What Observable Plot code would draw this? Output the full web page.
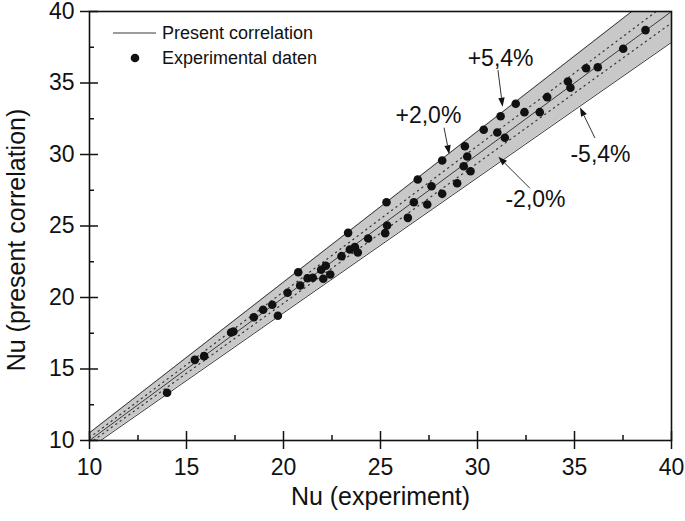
<!DOCTYPE html>
<html>
<head>
<meta charset="utf-8">
<script src="https://cdn.jsdelivr.net/npm/d3@7"></script>
<script src="https://cdn.jsdelivr.net/npm/@observablehq/plot@0.6"></script>
<style>
  body { margin: 0; background: #fff; }
  #chart svg { font-family: "Liberation Sans", Arial, sans-serif; }
</style>
</head>
<body>
<div id="chart"></div>
<script>
// Experimental Nu vs present correlation Nu
const expX = [14.0, 15.43, 15.91, 17.30, 17.42, 18.47, 18.95, 19.42, 19.71, 20.21,
  20.76, 20.86, 21.24, 21.51, 21.94, 22.18, 22.05, 22.41, 22.99, 23.33,
  23.42, 23.68, 23.83, 24.36, 25.34, 25.24,
  38.66, 37.51, 35.60, 36.20, 34.66, 34.79, 33.59, 31.97, 31.19, 32.42,
  33.21, 30.32, 31.02, 31.41, 29.35, 29.47, 28.18, 29.29, 29.64, 28.95,
  26.92, 27.63, 28.18, 25.31, 26.72, 27.41, 26.41];
const corrY = [13.34, 15.64, 15.90, 17.55, 17.62, 18.62, 19.14, 19.49, 18.72, 20.33,
  21.77, 20.84, 21.35, 21.38, 21.94, 22.22, 21.31, 21.61, 22.89, 24.52,
  23.36, 23.52, 23.15, 24.13, 25.03, 24.50,
  38.70, 37.39, 36.03, 36.10, 35.10, 34.67, 34.01, 33.55, 32.68, 32.96,
  32.96, 31.73, 31.54, 31.17, 30.58, 29.86, 29.58, 29.18, 28.83, 27.99,
  28.25, 27.78, 27.25, 26.66, 26.66, 26.50, 25.57];

// Deviation band definitions (percent)
const bandPct = 5.4;
const dottedPct = [2.0, -2.0];
const lineX = [10, 40];

// Axis ticks
const majorTicks = [10, 15, 20, 25, 30, 35, 40];
const minorTicks = [12.5, 17.5, 22.5, 27.5, 32.5, 37.5];

// Annotations
const annLabels = ["+5,4%", "+2,0%", "-5,4%", "-2,0%"];
const annLabelX = [31.19, 27.47, 36.34, 32.99];
const annLabelY = [36.71, 32.73, 30.00, 26.85];
const annTailX = [31.08, 28.30, 36.08, 32.73];
const annTailY = [35.87, 31.84, 31.12, 27.60];
const annTipX = [31.32, 28.57, 35.31, 31.10];
const annTipY = [33.31, 29.99, 33.26, 29.81];

const legendLabels = ["Present correlation", "Experimental daten"];

const points = expX.map((x, i) => ({x, y: corrY[i]}));
const band = lineX.map(x => ({x, lo: x * (1 - bandPct / 100), hi: x * (1 + bandPct / 100)}));
const dotted = dottedPct.flatMap(p => lineX.map(x => ({p, x, y: x * (1 + p / 100)})));
const ann = annLabels.map((t, i) => ({t, lx: annLabelX[i], ly: annLabelY[i], x1: annTailX[i], y1: annTailY[i], x2: annTipX[i], y2: annTipY[i]}));

const ink = "#111";
const lineGray = "#3a3a3a";

function legendMark(index, scales, values, dims) {
  const g = d3.create("svg:g")
    .attr("transform", `translate(${dims.marginLeft},${dims.marginTop})`)
    .attr("font-family", "Liberation Sans, Arial, sans-serif")
    .attr("font-size", 18)
    .attr("text-anchor", "start");
  g.append("line").attr("x1", 24).attr("x2", 67).attr("y1", 22).attr("y2", 22)
    .attr("stroke", lineGray).attr("stroke-width", 1);
  g.append("circle").attr("cx", 46).attr("cy", 47).attr("r", 4.3).attr("fill", ink);
  legendLabels.forEach((t, i) => {
    g.append("text").attr("x", 73).attr("y", 22 + i * 25).attr("dy", "0.35em")
      .attr("text-anchor", "start").attr("fill", ink).text(t);
  });
  return g.node();
}

// annotation arrows with filled heads, positioned through the plot's scales
function arrowMark(index, scales) {
  const g = d3.create("svg:g");
  for (const a of ann) {
    const x1 = scales.x(a.x1), y1 = scales.y(a.y1), x2 = scales.x(a.x2), y2 = scales.y(a.y2);
    const ang = Math.atan2(y2 - y1, x2 - x1);
    const L = 9, W = 3.2;
    const bx = x2 - L * Math.cos(ang), by = y2 - L * Math.sin(ang);
    g.append("line").attr("x1", x1).attr("y1", y1).attr("x2", bx).attr("y2", by)
      .attr("stroke", "#333").attr("stroke-width", 1);
    const px = -Math.sin(ang) * W, py = Math.cos(ang) * W;
    g.append("path")
      .attr("d", `M${x2},${y2}L${bx + px},${by + py}L${bx - px},${by - py}Z`)
      .attr("fill", "#111");
  }
  return g.node();
}

const chart = Plot.plot({
  width: 685,
  height: 521,
  marginLeft: 89,
  marginRight: 14,
  marginTop: 11,
  marginBottom: 81,
  x: {domain: [10, 40]},
  y: {domain: [10, 40]},
  style: {fontFamily: "Liberation Sans, Arial, sans-serif", color: ink, background: "#fff"},
  marks: [
    Plot.areaY(band, {x: "x", y1: "lo", y2: "hi", fill: "#c8c8c8", clip: true}),
    Plot.line(band, {x: "x", y: "lo", stroke: lineGray, strokeWidth: 1, clip: true}),
    Plot.line(band, {x: "x", y: "hi", stroke: lineGray, strokeWidth: 1, clip: true}),
    Plot.line(dotted, {x: "x", y: "y", z: "p", stroke: "#333", strokeWidth: 1.2, strokeDasharray: "1.2,4.2", clip: true}),
    Plot.line(lineX.map(x => ({x, y: x})), {x: "x", y: "y", stroke: lineGray, strokeWidth: 1, clip: true}),
    Plot.dot(points, {x: "x", y: "y", r: 4.3, fill: ink, stroke: "none"}),
    arrowMark,
    Plot.text(ann, {x: "lx", y: "ly", text: "t", fontSize: 23, fill: ink}),
    // frame
    Plot.frame({stroke: ink, strokeWidth: 1.6}),
    // major ticks crossing the axes
    Plot.axisX(majorTicks, {tickSize: 18, dy: -9, tickFormat: () => "", label: null, stroke: ink, strokeWidth: 1.5}),
    Plot.axisY(majorTicks, {tickSize: 18, dx: 9, tickFormat: () => "", label: null, stroke: ink, strokeWidth: 1.5}),
    // minor ticks inward
    Plot.axisX(minorTicks, {tickSize: 5, dy: -5, tickFormat: () => "", label: null, stroke: ink, strokeWidth: 1.5}),
    Plot.axisY(minorTicks, {tickSize: 5, dx: 5, tickFormat: () => "", label: null, stroke: ink, strokeWidth: 1.5}),
    // tick labels
    Plot.axisX(majorTicks, {tickSize: 0, tickPadding: 18, label: null, fontSize: 23, fill: ink, tickFormat: d => String(d)}),
    Plot.axisY(majorTicks, {tickSize: 0, tickPadding: 15, label: null, fontSize: 23, fill: ink, tickFormat: d => String(d)}),
    // axis titles
    Plot.text(["Nu (experiment)"], {frameAnchor: "bottom", dy: 64, fontSize: 25, fill: ink, textAnchor: "middle"}),
    Plot.text(["Nu (present correlation)"], {frameAnchor: "left", dx: -73, dy: 14, rotate: -90, fontSize: 25, fill: ink, textAnchor: "middle"}),
    legendMark
  ]
});
document.getElementById("chart").append(chart);
</script>
</body>
</html>
